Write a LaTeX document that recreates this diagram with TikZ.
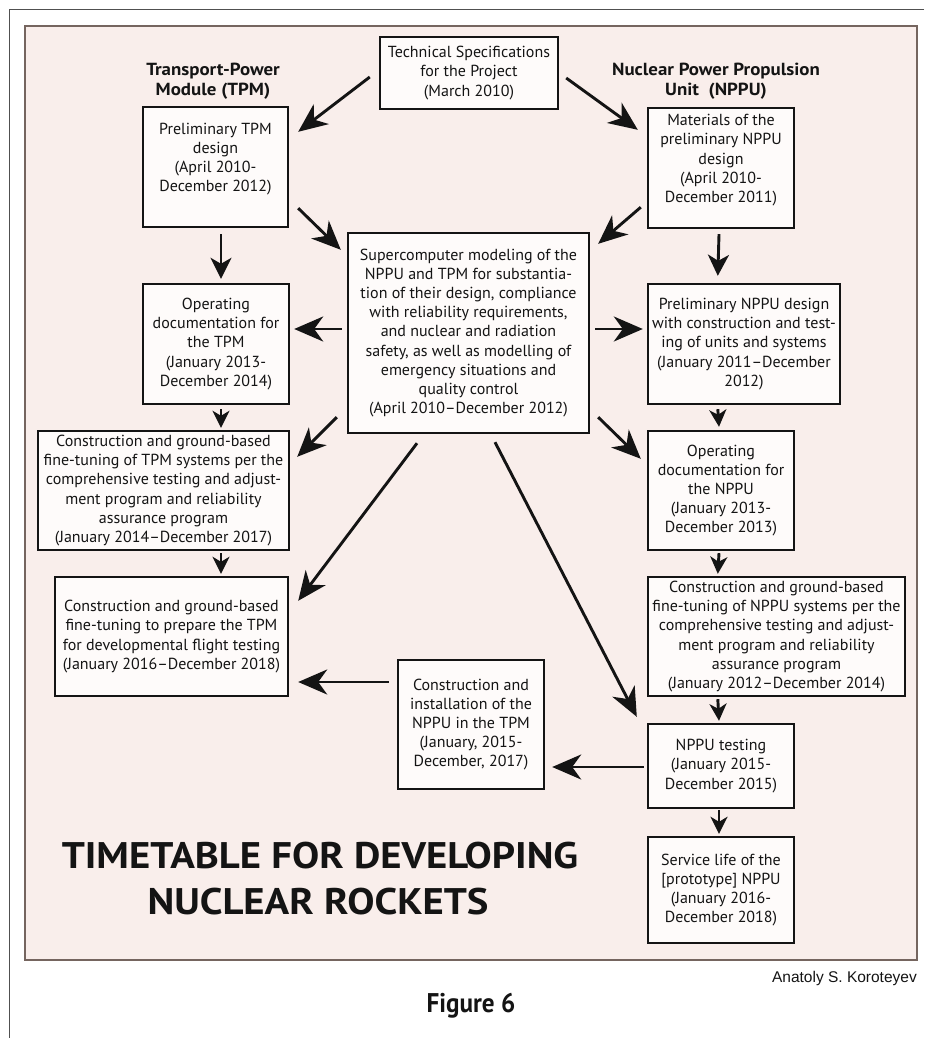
\documentclass[tikz,border=0pt]{standalone}
\usepackage{fontspec}
\setmainfont{PT Sans}
\newfontfamily\creditfont{Liberation Sans}
\usetikzlibrary{arrows.meta}
\definecolor{panelfill}{HTML}{F9EEEB}
\definecolor{panelrule}{HTML}{75655F}
\definecolor{boxfill}{HTML}{FEFBFA}
\definecolor{ink}{HTML}{141414}
\definecolor{framegray}{HTML}{505050}
\tikzset{
  stagebox/.style={draw=ink, line width=2.4pt, fill=boxfill, inner sep=0pt,
    align=center, text=ink, font=\fontsize{16}{19.2}\selectfont},
  bigarrow/.style={draw=ink, line width=2.9pt,
    -{Stealth[length=29pt,width=25pt,inset=9pt]}},
  midarrow/.style={draw=ink, line width=2.9pt,
    -{Stealth[length=21pt,width=21pt,inset=6pt]}},
  smallarrow/.style={draw=ink, line width=2.9pt,
    -{Stealth[length=17pt,width=17pt,inset=5pt]}},
  heading/.style={align=center, text=ink, inner sep=0pt,
    font=\bfseries\fontsize{17.5}{20}\selectfont},
  titletext/.style={text=ink, inner sep=0pt, anchor=base,
    font=\bfseries\fontsize{37}{46}\selectfont}
}
\begin{document}
\begin{tikzpicture}[x=1pt,y=-1pt]
\useasboundingbox (0,0) rectangle (924,1038);
\fill[white] (0,0) rectangle (924,1038);
% outer frame (top and left edges)
\draw[framegray, line width=1.4pt] (924,9.5) -- (9.5,9.5) -- (9.5,1038);
% panel
\draw[panelrule, line width=2.6pt, fill=panelfill] (25,26) rectangle (917,960);

% headings
\node[heading] (hTPM) at (213,81.5) {\scalebox{1.08}[1]{Transport-Power}\\\scalebox{1.08}[1]{Module (TPM)}};
\node[heading] (hNPPU) at (716,81.5) {\scalebox{1.08}[1]{Nuclear Power Propulsion}\\\scalebox{1.08}[1]{Unit\ \ (NPPU)}};

% boxes
\node[stagebox, minimum width=178pt, minimum height=72pt] (tech) at (469,73)
  {Technical Specifications\\for the Project\\(March 2010)};
\node[stagebox, minimum width=145pt, minimum height=120pt] (ptpm) at (215.5,167)
  {Preliminary TPM\\design\\(April 2010-\\December 2012)\\\mbox{}};
\node[stagebox, minimum width=146pt, minimum height=120pt] (mat) at (721,168)
  {Materials of the\\preliminary NPPU\\design\\(April 2010-\\December 2011)\\\mbox{}};
\node[stagebox, minimum width=241pt, minimum height=200pt] (sup) at (468.5,333)
  {Supercomputer modeling of the\\NPPU and TPM for substantia-\\tion of their design, compliance\\with reliability requirements,\\and nuclear and radiation\\safety, as well as modelling of\\emergency situations and\\quality control\\(April 2010--December 2012)};
\node[stagebox, minimum width=146pt, minimum height=120pt] (odtpm) at (216,344)
  {Operating\\documentation for\\the TPM\\(January 2013-\\December 2014)};
\node[stagebox, minimum width=192pt, minimum height=120pt] (pnppu) at (744,344)
  {Preliminary NPPU design\\with construction and test-\\ing of units and systems\\(January 2011--December\\2012)};
\node[stagebox, minimum width=251pt, minimum height=119pt] (ctpm) at (163.5,490.5)
  {Construction and ground-based\\fine-tuning of TPM systems per the\\comprehensive testing and adjust-\\ment program and reliability\\assurance program\\(January 2014--December 2017)};
\node[stagebox, minimum width=146pt, minimum height=119pt] (odnppu) at (721,490.5)
  {Operating\\documentation for\\the NPPU\\(January 2013-\\December 2013)};
\node[stagebox, minimum width=233pt, minimum height=119pt] (prep) at (171.5,636.5)
  {Construction and ground-based\\fine-tuning to prepare the TPM\\for developmental flight testing\\(January 2016--December 2018)};
\node[stagebox, minimum width=257pt, minimum height=119pt] (cnppu) at (776.5,636.5)
  {Construction and ground-based\\fine-tuning of NPPU systems per the\\comprehensive testing and adjust-\\ment program and reliability\\assurance program\\(January 2012--December 2014)};
\node[stagebox, minimum width=146pt, minimum height=129pt] (inst) at (471,724.5)
  {Construction and\\installation of the\\NPPU in the TPM\\(January, 2015-\\December, 2017)};
\node[stagebox, minimum width=146pt, minimum height=84pt] (test) at (721,766)
  {NPPU testing\\(January 2015-\\December 2015)};
\node[stagebox, minimum width=146pt, minimum height=106pt] (serv) at (721,890)
  {Service life of the\\{[}prototype{]} NPPU\\(January 2016-\\December 2018)};

% connectors
\draw[bigarrow] ([shift={(-9,4)}]tech.west) -- ([shift={(9,26)}]ptpm.north east);
\draw[bigarrow] ([shift={(7,5)}]tech.east) -- ([shift={(-9,23)}]mat.north west);
\draw[bigarrow] ([shift={(9,-20)}]ptpm.south east) -- ([shift={(-6,18)}]sup.north west);
\draw[bigarrow] ([shift={(-6,-22)}]mat.south west) -- ([shift={(8,12)}]sup.north east);
\draw[midarrow] ([shift={(5.5,6)}]ptpm.south) -- ([shift={(5,-4)}]odtpm.north);
\draw[midarrow] ([shift={(-2,5)}]mat.south) -- ([shift={(71,-7)}]pnppu.north west);
\draw[bigarrow] ([shift={(-5,-4)}]sup.west) -- ([shift={(4,-15)}]odtpm.east);
\draw[bigarrow] ([shift={(5,-4)}]sup.east) -- ([shift={(-4,-15)}]pnppu.west);
\draw[smallarrow] ([shift={(5,4)}]odtpm.south) -- ([shift={(57.5,-2)}]ctpm.north);
\draw[smallarrow] ([shift={(71,4)}]pnppu.south west) -- ([shift={(-2,-3)}]odnppu.north);
\draw[bigarrow] ([shift={(-10,-17)}]sup.south west) -- ([shift={(7,27)}]ctpm.north east);
\draw[bigarrow] ([shift={(8,-17)}]sup.south east) -- ([shift={(-6,29)}]odnppu.north west);
\draw[bigarrow] ([shift={(-51.5,9)}]sup.south) -- ([shift={(9,25)}]prep.north east);
\draw[bigarrow] ([shift={(26.5,8)}]sup.south) -- ([shift={(-10,-6)}]test.north west);
\draw[smallarrow] ([shift={(57.5,2)}]ctpm.south) -- ([shift={(49.5,-2)}]prep.north);
\draw[smallarrow] ([shift={(-2,2)}]odnppu.south) -- ([shift={(71,-2)}]cnppu.north west);
\draw[smallarrow] ([shift={(71,2)}]cnppu.south west) -- ([shift={(-2,-2)}]test.north);
\draw[bigarrow] ([shift={(-8,-42.5)}]inst.west) -- ([shift={(9,45.5)}]prep.east);
\draw[bigarrow] ([shift={(-3,1)}]test.west) -- ([shift={(7,42.5)}]inst.east);
\draw[smallarrow] ([shift={(-2,1)}]test.south) -- ([shift={(-2,-2)}]serv.north);

% title
\node[titletext] (title1) at (320,868) {\scalebox{1.1}[1]{TIMETABLE FOR DEVELOPING}};
\node[titletext] (title2) at (318,914) {\scalebox{1.1}[1]{NUCLEAR ROCKETS}};

% credit and caption
\node[anchor=base east, inner sep=0pt, text=ink, font=\creditfont\fontsize{15.5}{18}\selectfont]
  (credit) at (917,982) {Anatoly S. Koroteyev};
\node[anchor=base, inner sep=0pt, text=ink, font=\bfseries\fontsize{27}{30}\selectfont]
  (caption) at (471,1012) {\scalebox{0.93}[1]{Figure 6}};
\end{tikzpicture}
\end{document}
